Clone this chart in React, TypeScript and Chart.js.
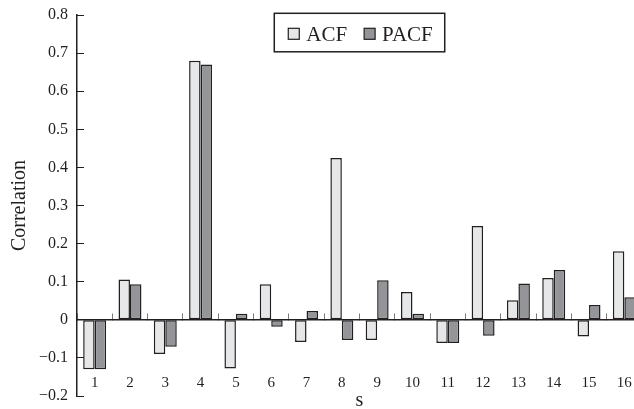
import { useEffect, useRef } from 'react';
import { Chart, registerables } from 'chart.js';

Chart.register(...registerables);

// ---- data ----
const lags = ['1', '2', '3', '4', '5', '6', '7', '8', '9', '10', '11', '12', '13', '14', '15', '16'];
const acfValues = [-0.13, 0.106, -0.09, 0.68, -0.128, 0.093, -0.058, 0.425, -0.053, 0.073, -0.061, 0.246, 0.051, 0.11, -0.044, 0.18];
const pacfValues = [-0.13, 0.093, -0.071, 0.67, 0.016, -0.018, 0.023, -0.053, 0.104, 0.016, -0.061, -0.042, 0.095, 0.131, 0.039, 0.059];
const seriesNames = ['ACF', 'PACF'];
const yMin = -0.2;
const yMax = 0.8;
const yStep = 0.1;
const xTitle = 's';
const yTitle = 'Correlation';

const FONT = '"Liberation Serif", "Times New Roman", serif';
const INK = '#231f20';

const boxedLegend = {
  id: 'boxedLegend',
  afterDraw(chart: any) {
    const { ctx, chartArea } = chart;
    ctx.save();
    ctx.font = `21px ${FONT}`;
    const sq = 11;
    const gapText = 7;
    const gapItem = 17;
    const padL = 14;
    const padR = 12;
    const items = chart.data.datasets.map((ds: any) => ({
      text: ds.label,
      fill: ds.backgroundColor,
      w: ctx.measureText(ds.label).width,
    }));
    const contentW =
      items.reduce((s: number, it: any) => s + sq + gapText + it.w, 0) + gapItem * (items.length - 1);
    const boxW = padL + contentW + padR;
    const boxH = 38.5;
    const cx = (chartArea.left + chartArea.right) / 2;
    const left = cx - boxW / 2;
    const top = chartArea.top - 1.7;
    ctx.lineWidth = 1.5;
    ctx.strokeStyle = INK;
    ctx.strokeRect(left, top, boxW, boxH);
    let x = left + padL;
    const baseline = top + 28;
    for (const it of items) {
      ctx.fillStyle = it.fill;
      ctx.fillRect(x, baseline - 13, sq, sq);
      ctx.lineWidth = 1.2;
      ctx.strokeStyle = INK;
      ctx.strokeRect(x, baseline - 13, sq, sq);
      x += sq + gapText;
      ctx.fillStyle = INK;
      ctx.textBaseline = 'alphabetic';
      ctx.textAlign = 'left';
      ctx.fillText(it.text, x, baseline);
      x += it.w + gapItem;
    }
    ctx.restore();
  },
};

function fmtTick(v: number) {
  const r = Math.round(v * 10) / 10;
  if (r === 0) return '0';
  return r < 0 ? '\u2212' + Math.abs(r).toFixed(1) : r.toFixed(1);
}

export default function App() {
  const ref = useRef<HTMLCanvasElement | null>(null);

  useEffect(() => {
    if (!ref.current) return;
    const chart = new Chart(ref.current, {
      type: 'bar',
      data: {
        labels: lags,
        datasets: [
          {
            label: seriesNames[0],
            data: acfValues,
            backgroundColor: '#e6e7e8',
            borderColor: INK,
            borderWidth: 1.5,
            borderSkipped: false,
            barPercentage: 1,
            categoryPercentage: 0.65,
          },
          {
            label: seriesNames[1],
            data: pacfValues,
            backgroundColor: '#939598',
            borderColor: INK,
            borderWidth: 1.5,
            borderSkipped: false,
            barPercentage: 1,
            categoryPercentage: 0.65,
          },
        ],
      },
      options: {
        animation: false,
        responsive: false,
        maintainAspectRatio: false,
        layout: { padding: { top: 15, right: 8, left: 0, bottom: 0 } },
        plugins: {
          legend: { display: false },
          tooltip: { enabled: false },
        },
        scales: {
          x: {
            type: 'category',
            position: { y: 0 } as any,
            grid: {
              display: true,
              drawOnChartArea: false,
              drawTicks: true,
              tickLength: -7,
              color: '#7a7a7a',
              lineWidth: 1,
              offset: true,
            },
            border: { display: true, color: INK, width: 1.5 },
            ticks: {
              color: INK,
              font: { family: FONT, size: 15 },
              padding: 61,
              maxRotation: 0,
              autoSkip: false,
            },
            afterFit: (s: any) => {
              s.height = 0;
              s.paddingLeft = 0;
              s.paddingRight = 0;
              s.paddingTop = 0;
              s.paddingBottom = 0;
            },
          },
          x2: {
            type: 'category',
            position: 'bottom',
            grid: { display: false, drawTicks: false },
            border: { display: false },
            ticks: { display: false },
            title: {
              display: true,
              text: xTitle,
              color: INK,
              font: { family: FONT, size: 20 },
              padding: { top: -7, bottom: -4 },
            },
            afterFit: (s: any) => {
              s.paddingLeft = 0;
              s.paddingRight = 0;
            },
          },
          y: {
            type: 'linear',
            position: 'left',
            min: yMin,
            max: yMax,
            ticks: {
              stepSize: yStep,
              callback: (v: any) => fmtTick(Number(v)),
              color: INK,
              font: { family: FONT, size: 16 },
              padding: 16,
            },
            grid: {
              display: true,
              drawOnChartArea: false,
              drawTicks: true,
              tickLength: -7,
              color: INK,
              lineWidth: 1,
            },
            border: { display: true, color: INK, width: 1.5 },
            title: {
              display: true,
              text: yTitle,
              color: INK,
              font: { family: FONT, size: 20 },
              padding: { top: 8, bottom: 0 },
            },
            afterFit: (s: any) => {
              s.width = 77;
              s.paddingTop = 0;
              s.paddingBottom = 0;
            },
          },
        },
      },
      plugins: [boxedLegend],
    });
    return () => chart.destroy();
  }, []);

  return (
    <div
      style={{
        position: 'fixed',
        left: 0,
        top: 0,
        width: 634,
        height: 409,
        overflow: 'hidden',
        background: '#fff',
      }}
    >
      <canvas ref={ref} width={650} height={409} style={{ display: 'block', width: 650, height: 409 }} />
    </div>
  );
}
